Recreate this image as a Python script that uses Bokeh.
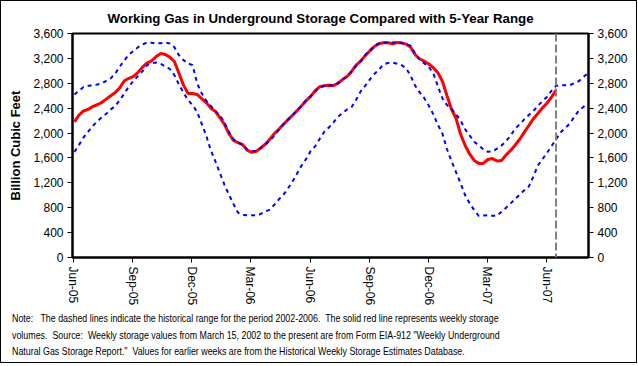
import html
import pandas as pd
from bokeh.plotting import figure
from bokeh.layouts import column
from bokeh.models import (LinearAxis, FixedTicker, DatetimeTickFormatter, NumeralTickFormatter,
                          Span, Range1d, ColumnDataSource, Div)
from bokeh.embed import file_html
from bokeh.resources import INLINE

# ---------------- data (Bcf, weekly) ----------------
first_week = "2005-06-03"
report_date = "2007-06-15"
x_start = "2005-05-31"
x_end = "2007-08-04"

storage = [2180, 2290, 2355, 2380, 2425, 2455, 2490, 2545, 2600, 2650,
           2730, 2840, 2880, 2910, 2975, 3060, 3128, 3160, 3230, 3278,
           3262, 3220, 3150, 2960, 2770, 2636, 2636, 2620, 2555, 2490,
           2400, 2350, 2250, 2140, 1993, 1880, 1845, 1815, 1725, 1690,
           1705, 1760, 1820, 1900, 1990, 2060, 2140, 2215, 2287, 2360,
           2440, 2520, 2590, 2680, 2745, 2759, 2770, 2762, 2800, 2860,
           2910, 2990, 3090, 3155, 3245, 3320, 3390, 3435, 3450, 3450,
           3434, 3455, 3450, 3430, 3380, 3260, 3190, 3155, 3110, 3050,
           2970, 2830, 2600, 2380, 2234, 1980, 1800, 1660, 1560, 1511,
           1511, 1575, 1590, 1550, 1560, 1650, 1720, 1805, 1900, 2010,
           2120, 2230, 2314, 2405, 2480, 2575, 2690]

upper = [2620, 2680, 2740, 2760, 2765, 2780, 2796, 2840, 2880, 2960,
         3070, 3170, 3260, 3321, 3380, 3425, 3455, 3450, 3440, 3445,
         3455, 3440, 3380, 3250, 3171, 3120, 3091, 2800, 2640, 2520,
         2440, 2350, 2290, 2170, 2020, 1900, 1850, 1810, 1740, 1709,
         1712, 1760, 1815, 1875, 1960, 2055, 2140, 2215, 2290, 2360,
         2440, 2535, 2593, 2670, 2735, 2759, 2770, 2770, 2800, 2860,
         2910, 2990, 3080, 3155, 3255, 3320, 3400, 3439, 3450, 3455,
         3455, 3455, 3445, 3425, 3402, 3270, 3180, 3120, 3060, 2960,
         2750, 2555, 2450, 2390, 2300, 2200, 2060, 1960, 1860, 1800,
         1740, 1698, 1705, 1750, 1800, 1870, 1960, 2070, 2140, 2220,
         2290, 2350, 2440, 2510, 2580, 2680, 2759, 2770, 2770, 2770,
         2800, 2834, 2900, 2960]

lower = [1698, 1810, 1930, 2020, 2110, 2190, 2250, 2310, 2380, 2437,
         2530, 2640, 2750, 2840, 2920, 2995, 3091, 3120, 3134, 3110,
         3070, 3030, 2930, 2780, 2650, 2530, 2450, 2340, 2150, 1960,
         1725, 1550, 1360, 1170, 1010, 860, 720, 685, 680, 680,
         680, 700, 740, 770, 850, 935, 1010, 1110, 1220, 1350,
         1480, 1585, 1714, 1790, 1910, 2020, 2090, 2170, 2261, 2320,
         2380, 2420, 2535, 2670, 2760, 2860, 2950, 3020, 3102, 3125,
         3134, 3115, 3091, 3040, 2920, 2760, 2650, 2560, 2440, 2300,
         2130, 1990, 1740, 1548, 1370, 1190, 1000, 870, 760, 670,
         675, 680, 670, 670, 734, 800, 870, 940, 1010, 1080,
         1140, 1300, 1480, 1580, 1680, 1790, 1900, 2010, 2080, 2150,
         2260, 2360, 2420, 2459]

tick_dates = ["2005-06-01", "2005-09-01", "2005-12-01", "2006-03-01", "2006-06-01",
              "2006-09-01", "2006-12-01", "2007-03-01", "2007-06-01"]
y_ticks = [0, 400, 800, 1200, 1600, 2000, 2400, 2800, 3200, 3600]

title_text = "Working Gas in Underground Storage Compared with 5-Year Range"
y_label = "Billion Cubic Feet"
note_lines = [
    "Note:   The dashed lines indicate the historical range for the period 2002-2006.  The solid red line represents weekly storage",
    "volumes.  Source:  Weekly storage values from March 15, 2002 to the present are from Form EIA-912 \"Weekly Underground",
    "Natural Gas Storage Report.\"  Values for earlier weeks are from the Historical Weekly Storage Estimates Database.",
]

# ---------------- build ----------------
def ms(d):
    return pd.Timestamp(d).value // 10**6

red_dates = pd.date_range(first_week, periods=len(storage), freq="7D")
band_dates = pd.date_range(first_week, periods=len(upper), freq="7D")
src_red = ColumnDataSource(dict(x=red_dates, y=storage))
src_band = ColumnDataSource(dict(x=band_dates, up=upper, lo=lower))

W = 635
PH = 308
NH = 53
FONT = "Liberation Sans"

p = figure(width=W, height=PH, x_axis_type="datetime",
           x_range=Range1d(ms(x_start), ms(x_end)), y_range=Range1d(0, 3600),
           output_backend="svg", toolbar_location=None,
           min_border_left=71, min_border_right=48, min_border_top=32, min_border_bottom=52)
p.background_fill_color = "white"
p.border_fill_color = "white"
p.outline_line_color = "black"
p.outline_line_width = 2
p.xgrid.visible = False
p.ygrid.visible = False

# title
p.title.text = title_text
p.title.align = "left"
p.title.offset = 35
p.title.text_font = FONT
p.title.text_font_style = "bold"
p.title.text_font_size = "13.3px"
p.title.text_color = "black"
p.title.standoff = 15

# axes
xa = p.xaxis[0]
xa.ticker = FixedTicker(ticks=[ms(d) for d in tick_dates])
fmt = "%b-%y"
xa.formatter = DatetimeTickFormatter(days=fmt, months=fmt, years=fmt, hours=fmt,
                                     minutes=fmt, seconds=fmt, milliseconds=fmt, microseconds=fmt,
                                     minsec=fmt, hourmin=fmt)
xa.major_label_orientation = "vertical"
xa.axis_line_width = 2
xa.major_tick_out = 5
xa.major_tick_in = 0
xa.minor_tick_out = 0
xa.minor_tick_in = 0
xa.major_label_standoff = 4
xa.major_label_text_font = FONT
xa.major_label_text_font_size = "12px"
xa.major_label_text_color = "black"

ya = p.yaxis[0]
ya.ticker = FixedTicker(ticks=y_ticks)
ya.formatter = NumeralTickFormatter(format="0,0")
ya.axis_line_width = 2
ya.major_tick_out = 5
ya.major_tick_in = 0
ya.minor_tick_out = 0
ya.minor_tick_in = 0
ya.major_label_standoff = 4
ya.major_label_text_font = FONT
ya.major_label_text_font_size = "12px"
ya.major_label_text_color = "black"
ya.axis_label = y_label
ya.axis_label_text_font = FONT
ya.axis_label_text_font_style = "bold"
ya.axis_label_text_font_size = "13px"
ya.axis_label_text_color = "black"
ya.axis_label_standoff = 7

ra = LinearAxis(ticker=FixedTicker(ticks=y_ticks), formatter=NumeralTickFormatter(format="0,0"))
ra.axis_line_width = 2
ra.major_tick_out = 5
ra.major_tick_in = 0
ra.minor_tick_out = 0
ra.minor_tick_in = 0
ra.major_label_standoff = 4
ra.major_label_text_font = FONT
ra.major_label_text_font_size = "12px"
ra.major_label_text_color = "black"
p.add_layout(ra, "right")

# series
p.line("x", "y", source=src_red, line_color="#FF0000", line_width=3)
p.line("x", "up", source=src_band, line_color="#0000FF", line_width=2, line_dash="4 4")
p.line("x", "lo", source=src_band, line_color="#0000FF", line_width=2, line_dash="4 4")

p.add_layout(Span(location=ms(report_date), dimension="height", line_color="#808080",
                  line_width=2, line_dash="8 3"))

# note below the chart
inner = "<br>".join(html.escape(s) for s in note_lines)
note_html = (
    '<div style="white-space:pre; font-family:\'Liberation Sans\', Arial, sans-serif; '
    'font-size:11px; line-height:16.5px; color:black; margin:0; padding:0; '
    'position:relative; left:11px; top:1px; transform:scaleX(0.806); transform-origin:0 0;">'
    + inner + '</div>'
)
note = Div(text=note_html, width=W, height=NH, margin=0,
           styles={"overflow": "hidden", "background": "white"})

layout = column(p, note, spacing=0, styles={"border": "1px solid black", "background": "white"})

open("out.html", "w").write(file_html(layout, INLINE))
